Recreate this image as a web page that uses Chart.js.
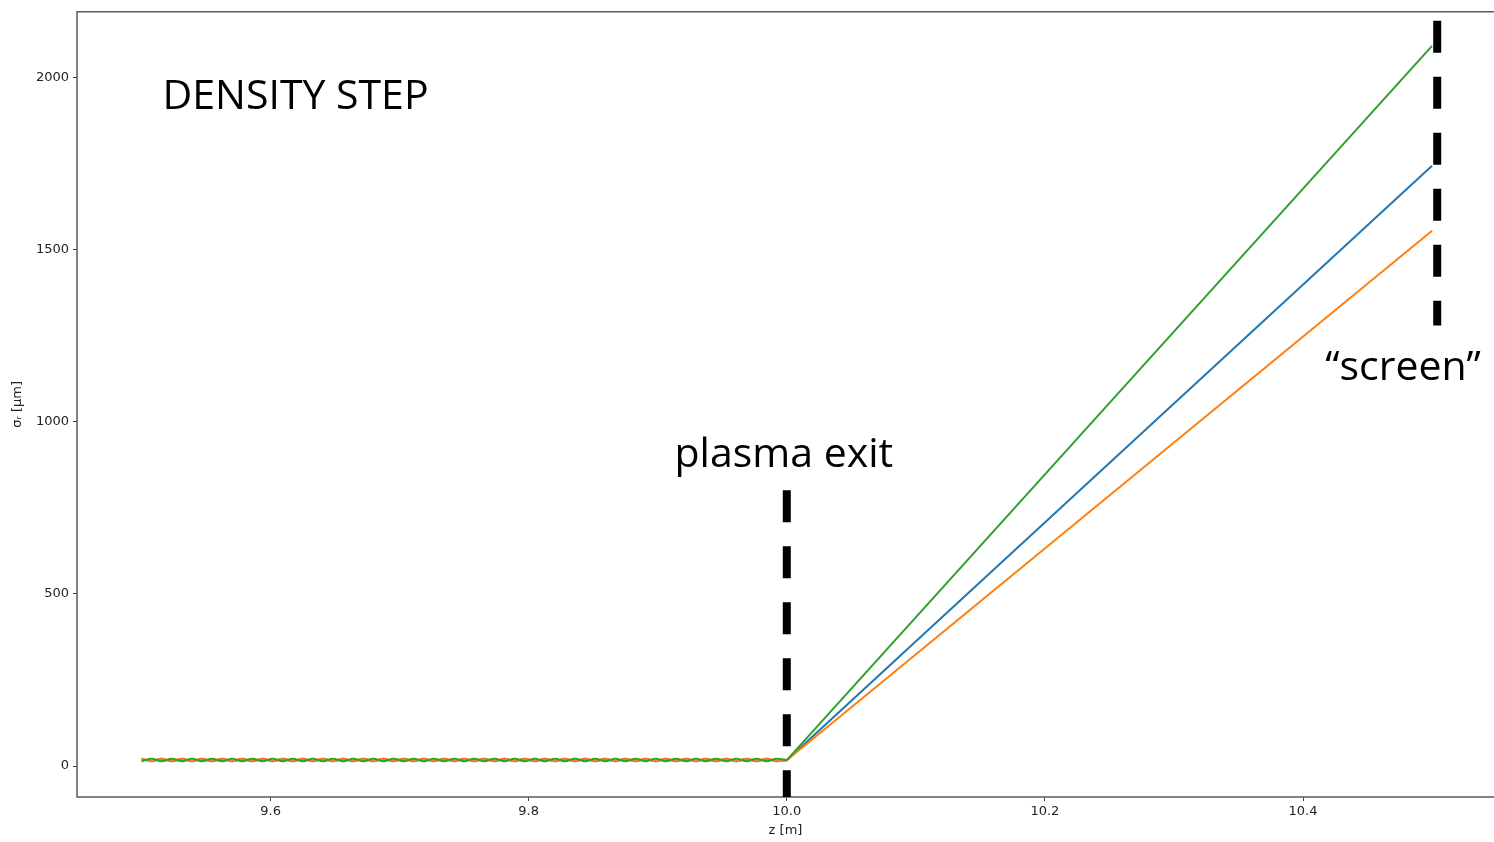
<!DOCTYPE html>
<html>
<head>
<meta charset="utf-8">
<script src="https://cdn.jsdelivr.net/npm/chart.js@4"></script>
<style>
  body { margin: 0; background: #fff; }
  #wrap { width: 1494px; height: 842px; }
</style>
</head>
<body>
<div id="wrap"><canvas id="densityChart"></canvas></div>
<script>
// z positions [m] inside the plasma (wiggle peaks / troughs)
const zPlasma = [
  9.5000, 9.5078, 9.5156, 9.5234, 9.5313, 9.5391, 9.5469, 9.5547, 9.5625, 9.5703,
  9.5781, 9.5859, 9.5938, 9.6016, 9.6094, 9.6172, 9.6250, 9.6328, 9.6406, 9.6484,
  9.6563, 9.6641, 9.6719, 9.6797, 9.6875, 9.6953, 9.7031, 9.7109, 9.7188, 9.7266,
  9.7344, 9.7422, 9.7500, 9.7578, 9.7656, 9.7734, 9.7813, 9.7891, 9.7969, 9.8047,
  9.8125, 9.8203, 9.8281, 9.8359, 9.8438, 9.8516, 9.8594, 9.8672, 9.8750, 9.8828,
  9.8906, 9.8984, 9.9063, 9.9141, 9.9219, 9.9297, 9.9375, 9.9453, 9.9531, 9.9609,
  9.9688, 9.9766, 9.9844, 9.9922, 10.0000
];
// z positions [m] after the plasma exit, up to the screen
const zDrift = [10.0, 10.5];

// sigma_r [um] for the three beams inside the plasma
const blueInPlasma = [
  21, 14, 21, 14, 21, 14, 21, 14, 21, 14, 21, 14, 21, 14, 21, 14, 21, 14, 21, 14,
  21, 14, 21, 14, 21, 14, 21, 14, 21, 14, 21, 14, 21, 14, 21, 14, 21, 14, 21, 14,
  21, 14, 21, 14, 21, 14, 21, 14, 21, 14, 21, 14, 21, 14, 21, 14, 21, 14, 21, 14,
  21, 14, 21, 14, 17
];
const orangeInPlasma = [
  21, 14, 21, 14, 21, 14, 21, 14, 21, 14, 21, 14, 21, 14, 21, 14, 21, 14, 21, 14,
  21, 14, 21, 14, 21, 14, 21, 14, 21, 14, 21, 14, 21, 14, 21, 14, 21, 14, 21, 14,
  21, 14, 21, 14, 21, 14, 21, 14, 21, 14, 21, 14, 21, 14, 21, 14, 21, 14, 21, 14,
  21, 14, 21, 14, 17
];
const greenInPlasma = [
  14, 21, 14, 21, 14, 21, 14, 21, 14, 21, 14, 21, 14, 21, 14, 21, 14, 21, 14, 21,
  14, 21, 14, 21, 14, 21, 14, 21, 14, 21, 14, 21, 14, 21, 14, 21, 14, 21, 14, 21,
  14, 21, 14, 21, 14, 21, 14, 21, 14, 21, 14, 21, 14, 21, 14, 21, 14, 21, 14, 21,
  14, 21, 14, 21, 17
];

// sigma_r [um] in the drift to the screen
const blueDrift = [17, 1744];
const orangeDrift = [17, 1555];
const greenDrift = [17, 2092];

// dashed markers: plasma exit and screen
const exitZ = [10.0, 10.0];
const exitSigma = [801, -200];
const screenZ = [10.504, 10.504];
const screenSigma = [2165, 1280];

const xTicks = [9.6, 9.8, 10.0, 10.2, 10.4];
const yTicks = [0, 500, 1000, 1500, 2000];

// annotation texts [text, z, sigma, align]
const notes = [
  ['DENSITY STEP', 9.5163, 1909, 'left'],
  ['plasma exit', 9.9977, 868, 'center'],
  ['\u201Cscreen\u201D', 10.4775, 1120, 'center']
];

const blue = '#1f77b4', orange = '#ff7f0e', green = '#2ca02c';

function toPoints(xs, ys) {
  return xs.map((x, i) => ({ x: x, y: ys[i] }));
}

// Rahmen um die Plotfläche (rechte Kante liegt am Bildrand)
const framePlugin = {
  id: 'frame',
  beforeDatasetsDraw(chart) {
    const a = chart.chartArea;
    const ctx = chart.ctx;
    ctx.save();
    ctx.strokeStyle = '#5a5a5a';
    ctx.lineWidth = 1.5;
    ctx.beginPath();
    ctx.moveTo(chart.width, a.top);
    ctx.lineTo(a.left, a.top);
    ctx.lineTo(a.left, a.bottom);
    ctx.lineTo(chart.width, a.bottom);
    ctx.stroke();
    ctx.restore();
  }
};

// Beschriftungen im Plot
const notesPlugin = {
  id: 'notes',
  afterDraw(chart) {
    const ctx = chart.ctx;
    const xs = chart.scales.x, ys = chart.scales.y;
    ctx.save();
    ctx.fillStyle = '#000';
    ctx.font = '41px "Open Sans"';
    ctx.textBaseline = 'alphabetic';
    notes.forEach(n => {
      ctx.textAlign = n[3];
      ctx.fillText(n[0], xs.getPixelForValue(n[1]), ys.getPixelForValue(n[2]));
    });
    ctx.restore();
  }
};

function wiggle(xs, ys, color, order) {
  return {
    data: toPoints(xs, ys), borderColor: color, borderWidth: 2, pointRadius: 0,
    cubicInterpolationMode: 'monotone', order: order
  };
}
function ramp(xs, ys, color, order) {
  return {
    data: toPoints(xs, ys), borderColor: color, borderWidth: 2, pointRadius: 0,
    tension: 0, order: order
  };
}
function marker(xs, ys) {
  return {
    data: toPoints(xs, ys), borderColor: '#000', borderWidth: 8, borderDash: [32, 24],
    borderCapStyle: 'butt', pointRadius: 0, tension: 0, order: 0
  };
}

const tickFont = { family: 'DejaVu Sans', size: 13 };

const ctx = document.getElementById('densityChart').getContext('2d');
new Chart(ctx, {
  type: 'line',
  data: {
    datasets: [
      marker(exitZ, exitSigma),
      marker(screenZ, screenSigma),
      wiggle(zPlasma, greenInPlasma, green, 1),
      ramp(zDrift, greenDrift, green, 1),
      wiggle(zPlasma, orangeInPlasma, orange, 2),
      ramp(zDrift, orangeDrift, orange, 2),
      wiggle(zPlasma, blueInPlasma, blue, 3),
      ramp(zDrift, blueDrift, blue, 3)
    ]
  },
  options: {
    responsive: true,
    maintainAspectRatio: false,
    animation: false,
    layout: { padding: { top: 11, right: 0, left: 0, bottom: 0 } },
    plugins: {
      legend: { display: false },
      tooltip: { enabled: false }
    },
    scales: {
      x: {
        type: 'linear',
        min: 9.45,
        max: 10.548,
        afterFit(scale) { scale.height = 45; },
        afterBuildTicks(scale) { scale.ticks = xTicks.map(v => ({ value: v })); },
        grid: { drawOnChartArea: false, drawTicks: true, tickLength: 4, color: '#444' },
        border: { display: false },
        ticks: {
          font: tickFont, color: '#222', padding: 3, maxRotation: 0, autoSkip: false,
          callback: v => v.toFixed(1)
        },
        title: {
          display: true, text: 'z [m]', font: tickFont, color: '#222',
          padding: { top: 0, bottom: 4 }
        }
      },
      y: {
        type: 'linear',
        min: -90,
        max: 2191,
        afterFit(scale) { scale.width = 77; },
        afterBuildTicks(scale) { scale.ticks = yTicks.map(v => ({ value: v })); },
        grid: { drawOnChartArea: false, drawTicks: true, tickLength: 4, color: '#444' },
        border: { display: false },
        ticks: {
          font: tickFont, color: '#222', padding: 4, autoSkip: false,
          callback: v => String(v)
        },
        title: {
          display: true, text: '\u03C3\u1D63 [\u03BCm]', font: tickFont, color: '#222',
          padding: { top: 10, bottom: 0 }
        }
      }
    }
  },
  plugins: [framePlugin, notesPlugin]
});
</script>
</body>
</html>
